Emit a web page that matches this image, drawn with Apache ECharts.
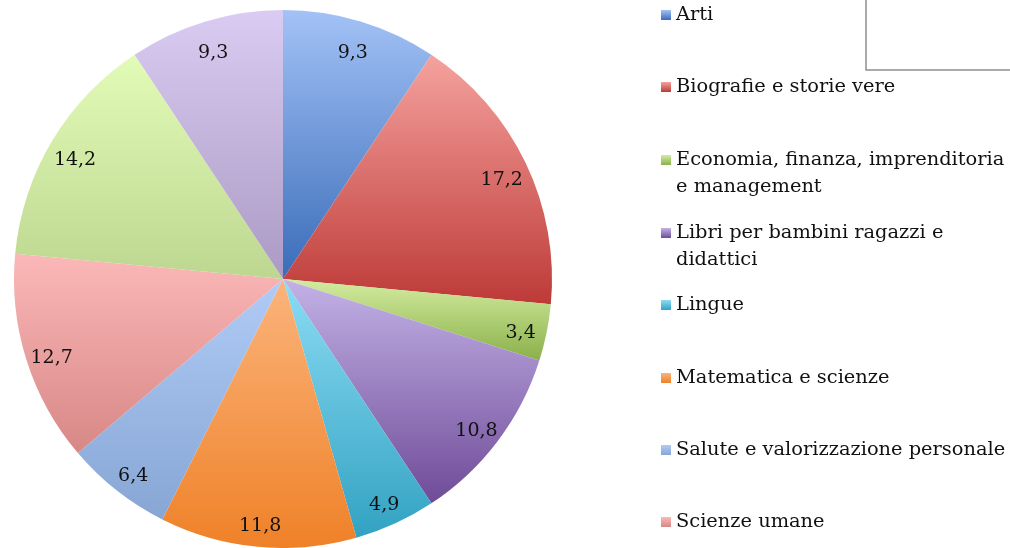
<!DOCTYPE html>
<html>
<head>
<meta charset="utf-8">
<script src="https://cdn.jsdelivr.net/npm/echarts@6/dist/echarts.min.js"></script>
<style>
  html, body { margin: 0; padding: 0; background: #fff; }
  #main { width: 1010px; height: 548px; }
</style>
</head>
<body>
<div id="main"></div>
<script>
// categorie e valori (%)
var categories = ['Arti', 'Biografie e storie vere', 'Economia, finanza, imprenditoria e management',
    'Libri per bambini ragazzi e didattici', 'Lingue', 'Matematica e scienze',
    'Salute e valorizzazione personale', 'Scienze umane', 'Tempo libero', 'Varie'];
var values = [9.3, 17.2, 3.4, 10.8, 4.9, 11.8, 6.4, 12.7, 14.2, 9.3];
// testo della legenda (a capo come nel grafico)
var legendLabels = ['Arti', 'Biografie e storie vere', 'Economia, finanza, imprenditoria\ne management',
    'Libri per bambini ragazzi e\ndidattici', 'Lingue', 'Matematica e scienze',
    'Salute e valorizzazione personale', 'Scienze umane'];

// colori: sopra chiaro, sotto scuro
var topColors = ['#a3c2f6', '#f5a29e', '#d3eca0', '#c3b2e6', '#8cdcf4', '#fbb47c', '#b0cbf6', '#fbb8b8', '#e2fcb8', '#dacbf2'];
var bottomColors = ['#3a6cb8', '#bd3a37', '#8bb04a', '#6f4b98', '#32a2c2', '#ef8128', '#87a6d4', '#d78886', '#bdd690', '#ab9bc4'];

function grad(i) {
    return new echarts.graphic.LinearGradient(0, 0, 0, 1, [
        {offset: 0, color: topColors[i]},
        {offset: 1, color: bottomColors[i]}
    ]);
}

var myChart = echarts.init(document.getElementById('main'));

var pieData = values.map(function (v, i) {
    return {name: categories[i], value: v, itemStyle: {color: grad(i)}};
});
var labelData = values.map(function (v, i) {
    return {name: categories[i], value: v};
});

var LH = 27; // altezza riga legenda
var legendCenters = [15, 87, 160, 233, 305, 378, 450, 522];
var legends = legendLabels.map(function (lab, i) {
    var twoLines = lab.indexOf('\n') >= 0;
    // riga vuota davanti: cosi' la prima riga resta all'altezza del quadratino
    var txt = twoLines ? '\n' + lab : lab;
    return {
        orient: 'vertical',
        left: 661,
        top: twoLines ? legendCenters[i] - LH * 1.5 : legendCenters[i] - LH / 2,
        padding: 0,
        icon: 'rect',
        itemWidth: 10,
        itemHeight: 10,
        selectedMode: false,
        formatter: function () { return txt; },
        textStyle: {
            fontFamily: 'DejaVu Serif',
            fontSize: 19.4,
            color: '#111',
            lineHeight: LH
        },
        data: [categories[i]]
    };
});

var option = {
    animation: false,
    legend: legends,
    graphic: [{
        type: 'rect',
        shape: {x: 866, y: -5, width: 160, height: 75},
        style: {fill: 'none', stroke: '#8f8f8f', lineWidth: 1.5}
    }],
    series: [
        {
            name: 'quote',
            type: 'pie',
            center: [283, 279],
            radius: [0, 269],
            startAngle: 90,
            clockwise: true,
            label: {show: false},
            labelLine: {show: false},
            emphasis: {disabled: true},
            data: pieData
        },
        {
            // anello trasparente solo per le etichette
            name: 'etichette',
            type: 'pie',
            center: [283, 279],
            radius: [210, 269],
            startAngle: 90,
            silent: true,
            itemStyle: {color: 'rgba(0,0,0,0)'},
            emphasis: {disabled: true},
            label: {
                show: true,
                position: 'inner',
                fontFamily: 'DejaVu Serif',
                fontSize: 19,
                color: '#111',
                formatter: function (p) { return String(p.value).replace('.', ','); }
            },
            labelLayout: {dy: 6},
            labelLine: {show: false},
            data: labelData
        }
    ]
};
myChart.setOption(option);
window.addEventListener('resize', myChart.resize);
</script>
</body>
</html>
